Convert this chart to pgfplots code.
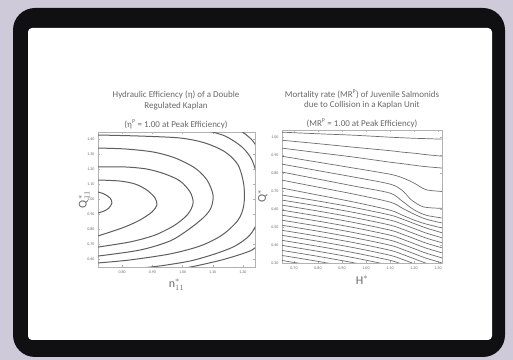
\documentclass[border=0pt]{standalone}
\usepackage{fontspec}
\setmainfont{Carlito}
\usepackage{pgfplots}
\pgfplotsset{compat=1.18}
\definecolor{bgc}{RGB}{206,202,218}
\definecolor{framec}{RGB}{16,16,18}
\definecolor{ctr}{RGB}{95,95,95}
\definecolor{ctrr}{RGB}{110,110,110}
\definecolor{txt}{RGB}{105,105,105}
\pgfplotsset{
  myax/.style={
    scale only axis, anchor=south west,
    axis line style={gray!60, line width=0.4bp},
    tick style={gray!60, line width=0.3bp},
    tick align=inside, major tick length=2bp,
    tick label style={font=\fontsize{4}{4.5}\selectfont, text=txt},
    label style={font=\fontsize{12}{13}\selectfont, text=txt},
    /pgf/number format/fixed,
    /pgf/number format/fixed zerofill,
    /pgf/number format/precision=2,
    /pgf/number format/assume math mode=true,
  },
  cl/.style={ctr, line width=1bp, smooth, no markers},
  cr/.style={ctrr, line width=0.7bp, smooth, no markers},
}
\begin{document}
\begin{tikzpicture}
\fill[bgc] (0bp,0bp) rectangle (513bp,360bp);
\fill[framec, rounded corners=22bp] (13bp,3bp) rectangle (505bp,352bp);
\fill[white, rounded corners=4bp] (28bp,20bp) rectangle (492bp,332bp);

\begin{scope}[every node/.style={font=\fontsize{9}{10}\selectfont, text=txt}]
\node at (176bp,265bp) {Hydraulic Efficiency (η) of a Double};
\node at (176bp,254bp) {Regulated Kaplan};
\node at (176bp,236bp) {(η\textsuperscript{P} = 1.00 at Peak Efficiency)};
\node at (362bp,266bp) {Mortality rate (MR\textsuperscript{P}) of Juvenile Salmonids};
\node at (362bp,255bp) {due to Collision in a Kaplan Unit};
\node at (362bp,237bp) {(MR\textsuperscript{P} = 1.00 at Peak Efficiency)};
\end{scope}

\begin{axis}[myax, at={(98bp,93bp)}, width=157bp, height=135bp,
  xmin=0.72, xmax=1.24, ymin=0.55, ymax=1.45,
  xtick={0.8,0.9,1.0,1.1,1.2}, ytick={0.6,0.7,0.8,0.9,1.0,1.1,1.2,1.3,1.4},
  xlabel={n$^{*}_{11}$}, ylabel={Q$^{*}_{11}$},
  xlabel shift=-1bp, ylabel shift=-9bp]
\addplot[cl] coordinates {(0.720,1.050) (0.740,1.037) (0.760,1.010) (0.766,0.977) (0.756,0.943) (0.740,0.923) (0.720,0.910)};
\addplot[cl] coordinates {(0.720,1.130) (0.793,1.123) (0.843,1.103) (0.882,1.063) (0.909,1.010) (0.915,0.963) (0.899,0.917) (0.859,0.863) (0.809,0.817) (0.760,0.783) (0.720,0.757)};
\addplot[cl] coordinates {(0.720,1.217) (0.809,1.217) (0.882,1.203) (0.942,1.170) (0.992,1.123) (1.025,1.050) (1.035,0.977) (1.018,0.903) (0.975,0.830) (0.909,0.763) (0.826,0.717) (0.720,0.683)};
\addplot[cl] coordinates {(0.720,1.343) (0.809,1.337) (0.902,1.317) (0.975,1.277) (1.041,1.210) (1.081,1.130) (1.101,1.030) (1.094,0.943) (1.068,0.877) (1.018,0.797) (0.958,0.723) (0.859,0.663) (0.720,0.623)};
\addplot[cl] coordinates {(0.720,1.430) (0.859,1.423) (0.992,1.410) (1.074,1.377) (1.141,1.317) (1.184,1.230) (1.203,1.097) (1.203,0.963) (1.184,0.863) (1.131,0.763) (1.058,0.690) (0.958,0.637) (0.826,0.597) (0.720,0.577)};
\addplot[cl] coordinates {(1.074,1.463) (1.141,1.423) (1.197,1.350) (1.230,1.263) (1.250,1.130) (1.256,0.997) (1.250,0.863) (1.223,0.763) (1.174,0.690) (1.107,0.637) (1.025,0.590) (0.925,0.557) (0.859,0.543)};
\addplot[cl] coordinates {(1.190,1.463) (1.230,1.397) (1.263,1.297)};
\addplot[cl] coordinates {(1.263,0.730) (1.230,0.663) (1.141,0.603) (1.058,0.563) (1.008,0.543)};
\end{axis}

\begin{axis}[myax, at={(282bp,97bp)}, width=160bp, height=133bp,
  xmin=0.65, xmax=1.3167, ymin=0.3, ymax=1.04,
  xtick={0.7,0.8,0.9,1.0,1.1,1.2,1.3}, ytick={0.3,0.4,0.5,0.6,0.7,0.8,0.9,1.0},
  xlabel={H$^{*}$}, ylabel={Q$^{*}$},
  xlabel shift=0bp, ylabel shift=-3bp]
\addplot[cr] coordinates {(0.65,1.028)(0.80,1.019)(0.95,1.011)(1.10,1.000)(1.15,0.997)(1.20,0.994)(1.25,0.992)(1.32,0.989)};
\addplot[cr] coordinates {(0.65,0.983)(0.80,0.964)(0.95,0.944)(1.10,0.925)(1.15,0.917)(1.20,0.911)(1.25,0.903)(1.32,0.894)};
\addplot[cr] coordinates {(0.65,0.939)(0.80,0.914)(0.95,0.889)(1.10,0.861)(1.15,0.853)(1.20,0.844)(1.25,0.836)(1.32,0.828)};
\addplot[cr] coordinates {(0.65,0.894)(0.80,0.861)(0.95,0.828)(1.10,0.794)(1.15,0.775)(1.20,0.745)(1.25,0.708)(1.32,0.698)};
\addplot[cr] coordinates {(0.65,0.850)(0.80,0.814)(0.95,0.778)(1.10,0.739)(1.15,0.705)(1.19,0.650)(1.24,0.612)(1.32,0.604)};
\addplot[cr] coordinates {(0.65,0.806)(0.80,0.767)(0.95,0.728)(1.10,0.689)(1.15,0.645)(1.20,0.596)(1.25,0.566)(1.32,0.550)};
\addplot[cr] coordinates {(0.65,0.761)(0.80,0.722)(0.95,0.683)(1.10,0.639)(1.15,0.606)(1.20,0.572)(1.25,0.544)(1.32,0.522)};
\addplot[cr] coordinates {(0.65,0.717)(0.80,0.678)(0.95,0.639)(1.10,0.594)(1.15,0.567)(1.20,0.539)(1.25,0.517)(1.32,0.494)};
\addplot[cr] coordinates {(0.65,0.678)(0.80,0.645)(0.95,0.609)(1.10,0.567)(1.15,0.545)(1.20,0.520)(1.25,0.495)(1.32,0.467)};
\addplot[cr] coordinates {(0.65,0.650)(0.80,0.617)(0.95,0.581)(1.10,0.539)(1.15,0.517)(1.20,0.492)(1.25,0.467)(1.32,0.439)};
\addplot[cr] coordinates {(0.65,0.622)(0.80,0.589)(0.95,0.553)(1.10,0.511)(1.15,0.489)(1.20,0.464)(1.25,0.439)(1.32,0.411)};
\addplot[cr] coordinates {(0.65,0.594)(0.80,0.561)(0.95,0.525)(1.10,0.483)(1.15,0.461)(1.20,0.436)(1.25,0.411)(1.32,0.383)};
\addplot[cr] coordinates {(0.65,0.566)(0.80,0.533)(0.95,0.497)(1.10,0.455)(1.15,0.433)(1.20,0.408)(1.25,0.383)(1.32,0.355)};
\addplot[cr] coordinates {(0.65,0.538)(0.80,0.505)(0.95,0.469)(1.10,0.427)(1.15,0.405)(1.20,0.380)(1.25,0.355)(1.32,0.327)};
\addplot[cr] coordinates {(0.65,0.510)(0.80,0.477)(0.95,0.441)(1.10,0.399)(1.15,0.377)(1.20,0.352)(1.25,0.327)(1.32,0.299)};
\addplot[cr] coordinates {(0.65,0.482)(0.80,0.449)(0.95,0.413)(1.10,0.371)(1.15,0.349)(1.20,0.324)(1.25,0.299)(1.32,0.271)};
\addplot[cr] coordinates {(0.65,0.454)(0.80,0.421)(0.95,0.385)(1.10,0.343)(1.15,0.321)(1.20,0.296)(1.25,0.271)};
\addplot[cr] coordinates {(0.65,0.426)(0.80,0.393)(0.95,0.357)(1.10,0.315)(1.15,0.293)(1.20,0.268)};
\addplot[cr] coordinates {(0.65,0.398)(0.80,0.365)(0.95,0.329)(1.10,0.287)(1.15,0.265)};
\addplot[cr] coordinates {(0.65,0.370)(0.80,0.337)(0.95,0.301)(1.10,0.259)};
\addplot[cr] coordinates {(0.65,0.342)(0.80,0.309)(0.95,0.273)};
\addplot[cr] coordinates {(0.65,0.314)(0.80,0.281)(0.95,0.245)};
\end{axis}
\end{tikzpicture}
\end{document}
